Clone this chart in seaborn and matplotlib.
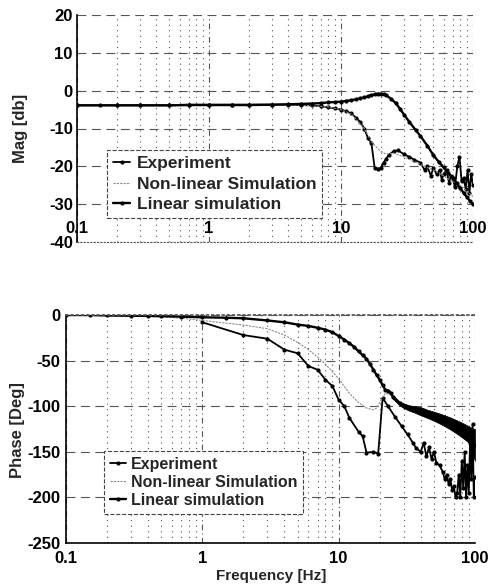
import numpy as np
import pandas as pd
import matplotlib
matplotlib.use("Agg")
import matplotlib.pyplot as plt
import seaborn as sns
from matplotlib.ticker import FixedLocator, NullFormatter, LogLocator

sns.set_theme(style="white")
plt.rcParams['font.family'] = ['Liberation Sans', 'DejaVu Sans']
plt.rcParams['font.weight'] = 'bold'

# ---------------- Magnitude data ----------------
mag_exp_f = [0.1, 0.2, 0.3, 0.5, 0.7, 1, 1.5, 2, 3, 4, 5, 6, 7, 8, 9, 10, 11, 12, 13, 14, 15,
             16, 17, 18, 19, 20, 21, 22, 23, 25, 27, 30, 33, 36, 40, 43, 45, 48, 50, 53, 56,
             58, 60, 63, 66, 68, 70, 73, 76, 79, 82, 85, 88, 91, 94, 97, 100]
mag_exp_v = [-3.8, -3.8, -3.8, -3.8, -3.7, -3.7, -3.7, -3.7, -3.7, -3.7, -3.8, -3.9, -4.1, -4.4, -4.7, -5.0, -5.5, -6.0, -7.2, -8.3, -10.0,
             -12.5, -13.9, -20.5, -20.6, -20.5, -19.0, -18.0, -17.0, -16.0, -15.8, -16.8, -17.5, -18.3, -19.0, -21.0, -20.0, -22.5, -20.5, -22.0, -21.0,
             -23.5, -22.0, -21.0, -24.5, -22.5, -23.0, -25.5, -20.0, -17.5, -24.0, -23.0, -26.0, -21.0, -27.0, -22.0, -25.0]

mag_nl_f = [0.1, 1, 5, 8, 10, 12, 15, 17, 18, 19, 20, 22, 25, 30, 40, 50, 60, 70, 80, 90, 100]
mag_nl_v = [-3.8, -3.8, -3.8, -4.3, -5.0, -6.2, -10.0, -13.5, -14.5, -15.3, -16.0, -16.8, -16.5, -17.5, -19.5, -21.0, -22.5, -24.0, -25.0, -26.5, -28.0]

mag_lin_f = [0.1, 0.15, 0.2, 0.3, 0.5, 0.7, 1, 1.5, 2, 3, 4, 5, 6, 7, 8, 9, 10, 11, 12, 13, 14, 15, 16, 17,
             18, 19, 20, 21, 22, 24, 26, 28, 30, 33, 37, 40, 45, 50, 55, 60, 65, 70, 75, 80, 85, 90, 95, 100]
mag_lin_v = [-3.9, -3.9, -3.9, -3.9, -3.9, -3.8, -3.8, -3.8, -3.8, -3.7, -3.6, -3.5, -3.4, -3.3, -3.1, -3.0, -2.9, -2.7, -2.5, -2.3, -2.0, -1.8, -1.5, -1.2,
             -1.0, -0.8, -0.8, -0.9, -1.2, -2.2, -3.3, -4.8, -6.3, -8.3, -10.5, -12.0, -14.5, -17.0, -18.8, -20.3, -21.8, -23.0, -24.5, -25.8, -27.0, -28.2, -29.2, -30.0]

# ---------------- Phase data ----------------
ph_exp_f = [1, 2, 3, 4, 5, 6, 7, 8, 9, 10, 11, 12, 14, 15, 16, 18, 19.5, 21, 23, 26, 29, 32, 35, 37,
            40, 42, 44, 46, 48, 50, 52, 55, 58, 60, 62, 64, 66, 68, 70, 72, 74, 76, 78, 80,
            82, 84, 86, 88, 90, 92, 94, 96, 98, 100]
ph_exp_v = [-8, -22, -26, -38, -42, -56, -60, -71, -78, -93, -100, -113, -128, -133, -151, -150, -152, -91, -100, -112, -122, -131, -140, -146,
            -150, -140, -155, -145, -158, -150, -162, -165, -172, -180, -175, -185, -180, -192, -188, -200, -195, -175, -200, -160,
            -190, -150, -200, -165, -195, -140, -180, -120, -200, -178]

ph_nl_f = [0.1, 0.3, 0.5, 0.7, 1, 2, 3, 4, 5, 6, 7, 8, 9, 10, 12, 14, 16, 18, 19, 20, 21, 22, 25]
ph_nl_v = [0, -1, -2, -3.5, -6, -11, -15, -22, -30, -38, -46, -54, -62, -70, -86, -96, -102, -104, -102, -96, -90, -86, -88]

ph_lin_f = [0.1, 0.15, 0.2, 0.3, 0.4, 0.5, 0.7, 1, 1.5, 2, 3, 4, 5, 6, 7, 8, 9, 10, 11, 12, 13, 14, 15, 16, 17,
            18, 19, 20, 21, 22, 23, 24, 25, 28, 30, 33, 36, 40, 45, 50, 55, 60, 65, 70, 75, 80, 85, 90, 95, 100]
ph_lin_v = [0, 0, -0.5, -0.8, -1, -1.3, -1.8, -2.5, -3, -3.6, -6, -8, -10.5, -12, -14, -16, -19, -23, -27, -31, -35, -40, -44, -48, -54,
            -60, -66, -71, -77, -82, -83, -85, -90, -97, -99.5, -102, -103.5, -105.5, -108.5, -111, -113.5, -116, -118.5, -121, -123.5, -126, -128.5, -131, -137, -142]
band_f = [25, 28, 30, 33, 36, 40, 45, 50, 55, 60, 65, 70, 75, 80, 85, 90, 95, 100]
band_top = [-88, -95, -97, -99, -100, -101, -104, -106, -108, -110, -112, -114, -116, -118, -120, -122, -124, -125]
band_bot = [-92, -99, -102, -105, -107, -110, -113, -116, -119, -122, -125, -128, -131, -134, -137, -140, -150, -160]

mag_ticks = [-40, -30, -20, -10, 0, 10, 20]
ph_ticks = [-250, -200, -150, -100, -50, 0]
x_ticks = [0.1, 1, 10, 100]
x_labels = ['0.1', '1', '10', '100']
labels = ['Experiment', 'Non-linear Simulation', 'Linear simulation']

W, H = 495, 584
fig = plt.figure(figsize=(W / 100, H / 100), dpi=100)
fig.patch.set_facecolor('white')


def ax_rect(l, t, r, b):
    return [l / W, 1 - b / H, (r - l) / W, (b - t) / H]


ax1 = fig.add_axes(ax_rect(77, 15, 473, 242))
ax2 = fig.add_axes(ax_rect(66, 315, 475, 543))

GRID = '#555555'


def style_axes(ax, yticks, ylim):
    ax.set_xscale('log')
    ax.set_xlim(0.1, 100)
    ax.set_ylim(*ylim)
    ax.set_facecolor('white')
    ax.yaxis.set_major_locator(FixedLocator(yticks))
    ax.xaxis.set_major_locator(FixedLocator(x_ticks))
    ax.xaxis.set_minor_locator(LogLocator(base=10, subs=np.arange(2, 10)))
    ax.xaxis.set_minor_formatter(NullFormatter())
    ax.set_xticklabels(x_labels)
    ax.set_yticklabels([str(v) for v in yticks])
    ax.grid(True, which='major', axis='y', color=GRID, linestyle=(0, (8, 5)), linewidth=0.8)
    ax.grid(True, which='major', axis='x', color=GRID, linestyle=(0, (5, 3, 1, 3)), linewidth=0.8)
    ax.grid(True, which='minor', axis='x', color=GRID, linestyle=(0, (1, 4)), linewidth=0.8)
    ax.tick_params(which='both', length=0, labelsize=12, colors='black')
    for lab in ax.get_xticklabels() + ax.get_yticklabels():
        lab.set_fontweight('bold')
    ax.set_xlabel('')
    ax.set_ylabel('')
    ax.set_axisbelow(True)


def draw(ax, ef, ev, nf, nv, lf, lv):
    sns.lineplot(x=ef, y=ev, ax=ax, color='black', linewidth=1.3, marker='o', markersize=3,
                 markeredgewidth=0, estimator=None, sort=False, label=labels[0])
    sns.lineplot(x=nf, y=nv, ax=ax, color='#8c8c8c', linewidth=0.8, linestyle=(0, (2, 1)),
                 estimator=None, sort=False, label=labels[1])
    sns.lineplot(x=lf, y=lv, ax=ax, color='black', linewidth=1.7, marker='o', markersize=3,
                 markeredgewidth=0, estimator=None, sort=False, label=labels[2])


# ---- top: magnitude ----
draw(ax1, mag_exp_f, mag_exp_v, mag_nl_f, mag_nl_v, mag_lin_f, mag_lin_v)
style_axes(ax1, mag_ticks, (-40, 20))
ax1.tick_params(axis='x', pad=-15)
ax1.tick_params(axis='y', pad=3)
for s in ['top', 'right']:
    ax1.spines[s].set_visible(False)
ax1.spines['left'].set_color('black')
ax1.spines['left'].set_linewidth(1.2)
ax1.spines['bottom'].set_color(GRID)
ax1.spines['bottom'].set_linestyle((0, (1, 2)))
ax1.spines['bottom'].set_linewidth(0.8)

leg1 = ax1.legend(loc='upper left', bbox_to_anchor=((107 - 77) / 396, (242 - 150) / 227),
                  borderaxespad=0, frameon=True, fancybox=False,
                  prop={'weight': 'bold', 'size': 12.5}, handlelength=1.0, handletextpad=0.35,
                  labelspacing=0.3, borderpad=0.35)
fr = leg1.get_frame()
fr.set_edgecolor('#444444')
fr.set_linestyle('--')
fr.set_linewidth(0.8)
fr.set_alpha(1)

# ---- bottom: phase ----
ax2.fill_between(band_f, band_top, band_bot, color='black', linewidth=0.5)
draw(ax2, ph_exp_f, ph_exp_v, ph_nl_f, ph_nl_v, ph_lin_f, ph_lin_v)
style_axes(ax2, ph_ticks, (-250, 0))
ax2.tick_params(axis='x', pad=6)
ax2.tick_params(axis='y', pad=4)
for s in ['right']:
    ax2.spines[s].set_visible(False)
ax2.spines['top'].set_color(GRID)
ax2.spines['top'].set_linestyle((0, (1, 2)))
for s in ['left', 'bottom']:
    ax2.spines[s].set_color('black')
    ax2.spines[s].set_linewidth(1.2)

leg2 = ax2.legend(loc='upper left', bbox_to_anchor=((104 - 66) / 409, (543 - 451) / 228),
                  borderaxespad=0, frameon=True, fancybox=False,
                  prop={'weight': 'bold', 'size': 11.5}, handlelength=1.0, handletextpad=0.35,
                  labelspacing=0.2, borderpad=0.35)
fr = leg2.get_frame()
fr.set_edgecolor('#444444')
fr.set_linestyle('--')
fr.set_linewidth(0.8)
fr.set_alpha(1)

fig.text(20 / W, 1 - 128 / H, 'Mag [db]', rotation=90, ha='center', va='center',
         fontsize=12, fontweight='bold')
fig.text(18 / W, 1 - 430 / H, 'Phase [Deg]', rotation=90, ha='center', va='center',
         fontsize=12, fontweight='bold')
fig.text(271 / W, 1 - 576 / H, 'Frequency [Hz]', ha='center', va='center',
         fontsize=11, fontweight='bold')

fig.savefig('out.png', dpi=100, facecolor='white')
